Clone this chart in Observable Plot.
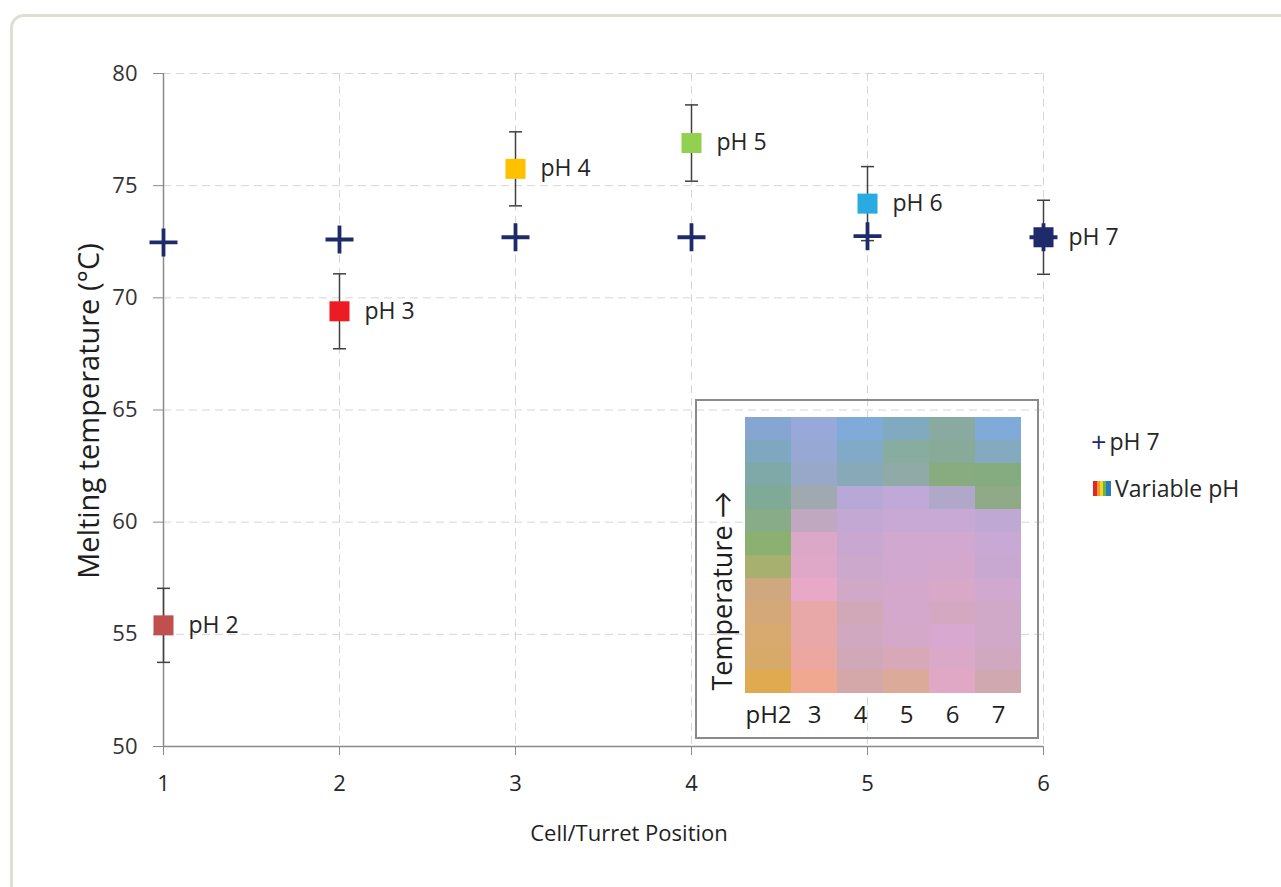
<!DOCTYPE html>
<html><head><meta charset="utf-8">
<script src="https://cdn.jsdelivr.net/npm/d3@7"></script>
<script src="https://cdn.jsdelivr.net/npm/@observablehq/plot@0.6"></script>
<style>
html,body{margin:0;padding:0;background:#fff;overflow:hidden;}
body{width:1281px;height:887px;position:relative;font-family:"Open Sans",Lato,sans-serif;}
#frame{position:absolute;left:10px;top:14px;width:1300px;height:900px;border:3px solid #dedfd0;border-radius:14px;box-sizing:border-box;}
#main{position:absolute;left:0;top:0;}
#inset{position:absolute;left:695px;top:399px;width:344px;height:340px;border:2px solid #8a8a8a;box-sizing:border-box;}
#inset svg{overflow:visible;}
.t{position:absolute;white-space:nowrap;color:#1e1e1e;}
.leg{position:absolute;white-space:nowrap;font-size:23px;color:#262626;display:flex;align-items:center;line-height:1;}
</style></head>
<body>
<div id="frame"></div>
<div id="main"></div>
<div id="inset"></div>
<div class="t" id="ytitle" style="left:87px;top:411px;font-size:29px;transform:translate(-50%,-50%) rotate(-90deg);">Melting temperature (°C)</div>
<div class="t" style="left:629px;top:832px;font-size:22px;transform:translate(-50%,-50%);">Cell/Turret Position</div>
<div class="leg" style="left:1091px;top:428px;"><span style="color:#1f2a6b;font-size:27px;margin-right:3px;">+</span>pH 7</div>
<div class="leg" style="left:1093px;top:477px;"><span style="display:inline-block;width:18px;height:15px;margin-right:4px;background:linear-gradient(to right,#e3262b 0%,#e3262b 20%,#f59a23 20%,#f59a23 40%,#f5d327 40%,#f5d327 55%,#65b54a 55%,#65b54a 75%,#2b7bc0 75%,#2b7bc0 100%);"></span>Variable pH</div>
<script>
// ---- data ----
const positions = [1, 2, 3, 4, 5, 6];
const ph7Temps = [72.47, 72.6, 72.7, 72.7, 72.75, 72.7];
const phLabels = ["pH 2", "pH 3", "pH 4", "pH 5", "pH 6", "pH 7"];
const varTemps = [55.4, 69.4, 75.75, 76.9, 74.2, 72.7];
const varErr = [1.65, 1.67, 1.65, 1.7, 1.65, 1.65];
const varColors = ["#c0504d", "#ed1c24", "#ffc000", "#92d050", "#29abe2", "#1f2a6b"];
const xTicks = [1, 2, 3, 4, 5, 6];
const yTicks = [50, 55, 60, 65, 70, 75, 80];

// inset heat map: colour bands per column, top to bottom
const insetCols = ["pH2", "3", "4", "5", "6", "7"];
const bandsPH2 = ["#86a5d0","#7fa8c0","#7fa8a8","#80aa98","#88ac88","#8cb070","#a8b070","#d0a880","#d4a878","#d8aa70","#d8aa6a","#e0aa50"];
const bandsPH3 = ["#98a8d8","#98a8d4","#98a8c8","#a0a8b0","#c0a8c0","#dca8c8","#e0a8c8","#e8a8c8","#e8a8a8","#e8a8a8","#eca8a0","#f0a890"];
const bandsPH4 = ["#80aad8","#80aac8","#88aab8","#b8a8d8","#c4a8d4","#c8a8d0","#cca8cc","#d0a8c8","#d0a8b8","#d0a8c0","#d0a8b8","#d4a8a8"];
const bandsPH5 = ["#80aac0","#88aca0","#90aaa8","#c0a8d8","#c8a8d4","#d0a8d0","#d0a8d0","#d4a8cc","#d4a8cc","#d4a8c8","#d8a8b8","#dcaa98"];
const bandsPH6 = ["#88aaa0","#88aa98","#88ac80","#b0a8c8","#c8a8d4","#d0a8d0","#d4a8cc","#d8a8c8","#d4a8c0","#d8a8d0","#dca8c8","#e0a8c4"];
const bandsPH7 = ["#80aad8","#84aac0","#84ac80","#90aa88","#c0a8d4","#c8a8d4","#c8a8d0","#d0a8d0","#d0a8c8","#d0a8c8","#d0a8c0","#d0a8b0"];
const insetBands = [bandsPH2, bandsPH3, bandsPH4, bandsPH5, bandsPH6, bandsPH7];

// ---- tables ----
const ph7Data = positions.map((x, i) => ({x, y: ph7Temps[i]}));
const varData = positions.map((x, i) => ({x, y: varTemps[i], e: varErr[i], label: phLabels[i], color: varColors[i]}));
const cellData = [];
insetCols.forEach((c, i) => insetBands[i].forEach((col, j) => cellData.push({c, r: j, col})));

// custom symbols
const plusSym = {draw(ctx, size) {
  const a = Math.sqrt(size / Math.PI), t = 1.9;
  ctx.moveTo(-a, -t); ctx.lineTo(-t, -t); ctx.lineTo(-t, -a); ctx.lineTo(t, -a); ctx.lineTo(t, -t);
  ctx.lineTo(a, -t); ctx.lineTo(a, t); ctx.lineTo(t, t); ctx.lineTo(t, a); ctx.lineTo(-t, a);
  ctx.lineTo(-t, t); ctx.lineTo(-a, t); ctx.closePath();
}};
const capSym = {draw(ctx, size) { const a = Math.sqrt(size / Math.PI); ctx.moveTo(-a, 0); ctx.lineTo(a, 0); }};

const font = "'Open Sans', Lato, sans-serif";

const main = Plot.plot({
  width: 1281, height: 887,
  marginLeft: 163, marginRight: 238, marginTop: 73, marginBottom: 141,
  style: {fontFamily: font, fontSize: "22px", background: "transparent", color: "#333"},
  x: {domain: [1, 6]},
  y: {domain: [50, 80]},
  marks: [
    Plot.gridY(yTicks.filter(d => d > 50), {stroke: "#d6d6d6", strokeOpacity: 1, strokeDasharray: "8,5"}),
    Plot.gridX(xTicks.filter(d => d > 1), {stroke: "#d6d6d6", strokeOpacity: 1, strokeDasharray: "8,5"}),
    Plot.ruleX([1], {stroke: "#8a8a8a", strokeWidth: 1.5}),
    Plot.ruleY([50], {stroke: "#8a8a8a", strokeWidth: 1.5}),
    Plot.axisY({ticks: yTicks, tickSize: 10, tickPadding: 16, fontSize: 22, label: null, stroke: "#8a8a8a", fill: "#333"}),
    Plot.axisX({ticks: xTicks, tickFormat: d3.format("d"), tickSize: 9, tickPadding: 20, fontSize: 22, label: null, stroke: "#8a8a8a", fill: "#262626"}),
    Plot.ruleX(varData, {x: "x", y1: d => d.y - d.e, y2: d => d.y + d.e, stroke: "#404040", strokeWidth: 1.5}),
    Plot.dot(varData, {x: "x", y: d => d.y - d.e, symbol: capSym, r: 6.5, stroke: "#404040", strokeWidth: 1.5, fill: "none"}),
    Plot.dot(varData, {x: "x", y: d => d.y + d.e, symbol: capSym, r: 6.5, stroke: "#404040", strokeWidth: 1.5, fill: "none"}),
    Plot.dot(ph7Data, {x: "x", y: "y", symbol: plusSym, r: 14, fill: "#1f2a6b", stroke: "none"}),
    Plot.dot(varData, {x: "x", y: "y", symbol: "square", r: 11.3, fill: d => d.color, stroke: "none"}),
    Plot.text(varData, {x: "x", y: "y", text: "label", dx: 25, textAnchor: "start", fontSize: 23, fill: "#262626"})
  ]
});
document.getElementById("main").appendChild(main);

const inset = Plot.plot({
  width: 340, height: 336,
  marginLeft: 46, marginRight: 14, marginTop: 16, marginBottom: 44,
  style: {fontFamily: font, fontSize: "24px", background: "transparent", color: "#1e1e1e"},
  x: {type: "band", domain: insetCols, padding: 0},
  y: {type: "band", domain: insetBands[0].map((_, j) => j), padding: 0, axis: null},
  marks: [
    Plot.cell(cellData, {x: "c", y: "r", fill: "col", inset: 0}),
    Plot.axisX({tickSize: 0, tickPadding: 12, fontSize: 24, label: null}),
    Plot.text(["Temperature →"], {frameAnchor: "bottom-left", textAnchor: "start", dx: -12, dy: -3, rotate: -90, fontSize: 27, fill: "#1e1e1e"})
  ]
});
document.getElementById("inset").appendChild(inset);
</script>
</body></html>
